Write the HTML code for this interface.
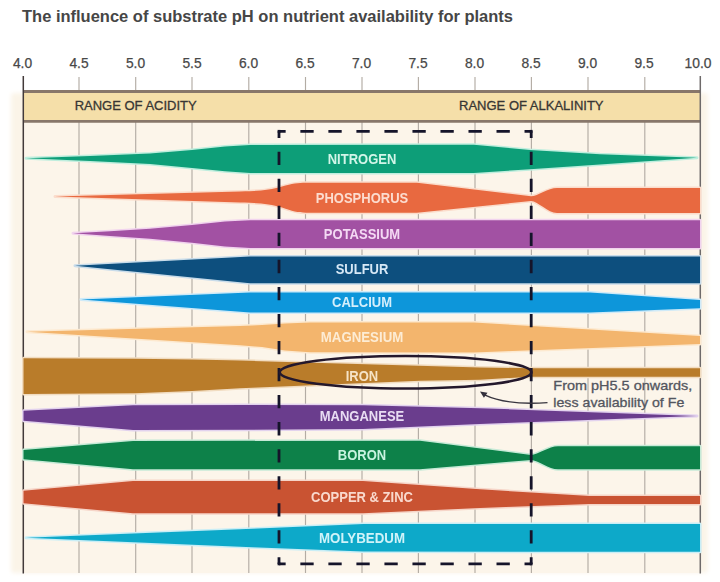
<!DOCTYPE html>
<html><head><meta charset="utf-8">
<style>
html,body{margin:0;padding:0;background:#fff;}
body{width:720px;height:582px;overflow:hidden;font-family:"Liberation Sans",sans-serif;}
svg{display:block}
text{font-family:"Liberation Sans",sans-serif;}
.lbl{font-weight:bold;font-size:13px;text-anchor:middle;}
.ax{font-size:13.8px;fill:#484848;stroke:#484848;stroke-width:0.25px;text-anchor:middle;}
</style></head><body>
<svg width="720" height="582" viewBox="0 0 720 582">
<defs>
<filter id="soft" x="-5%" y="-5%" width="110%" height="110%"><feGaussianBlur stdDeviation="0.6"/></filter>
<filter id="tblur" x="-5%" y="-20%" width="110%" height="140%"><feGaussianBlur stdDeviation="0.35"/></filter>
<filter id="bgblur" x="-5%" y="-5%" width="110%" height="110%"><feGaussianBlur stdDeviation="2"/></filter>
</defs>
<rect width="720" height="582" fill="#ffffff"/>
<!-- cream background -->
<rect x="11" y="93" width="697" height="480" rx="3" fill="#fbf4e8" filter="url(#bgblur)"/>
<rect x="23" y="92" width="677" height="481" fill="#fcf5ea"/>
<!-- title -->
<text x="22" y="22" font-size="16.4" font-weight="bold" fill="#464646" id="title" textLength="491" lengthAdjust="spacingAndGlyphs">The influence of substrate pH on nutrient availability for plants</text>
<!-- axis labels -->
<g class="ax">
<text x="22.5" y="67.6">4.0</text><text x="79.0" y="67.6">4.5</text><text x="135.5" y="67.6">5.0</text><text x="192.0" y="67.6">5.5</text><text x="248.5" y="67.6">6.0</text><text x="305.0" y="67.6">6.5</text><text x="361.5" y="67.6">7.0</text><text x="418.0" y="67.6">7.5</text><text x="474.5" y="67.6">8.0</text><text x="531.0" y="67.6">8.5</text><text x="587.5" y="67.6">9.0</text><text x="644.0" y="67.6">9.5</text><text x="698.0" y="67.6">10.0</text>
</g>
<!-- grid lines -->
<g stroke="#b3aca4" stroke-width="1.15">
<line x1="79" y1="77" x2="79" y2="573"/><line x1="135.7" y1="77" x2="135.7" y2="573"/><line x1="192" y1="77" x2="192" y2="573"/><line x1="248.8" y1="77" x2="248.8" y2="573"/><line x1="305.5" y1="77" x2="305.5" y2="573"/><line x1="362" y1="77" x2="362" y2="573"/><line x1="418.4" y1="77" x2="418.4" y2="573"/><line x1="475" y1="77" x2="475" y2="573"/><line x1="531.4" y1="77" x2="531.4" y2="573"/><line x1="588" y1="77" x2="588" y2="573"/><line x1="644.8" y1="77" x2="644.8" y2="573"/>
</g>
<!-- header band -->
<rect x="23.3" y="91" width="677" height="31" fill="#f5dfa9"/>
<line x1="23.3" y1="91.5" x2="700.3" y2="91.5" stroke="#88776a" stroke-width="2.8"/>
<line x1="23.3" y1="121.4" x2="700.3" y2="121.4" stroke="#88776a" stroke-width="2.8"/>
<text x="135.7" y="110.3" font-size="13" fill="#383634" stroke="#383634" stroke-width="0.3" text-anchor="middle" id="acid">RANGE OF ACIDITY</text>
<text x="531.3" y="110.3" font-size="13" fill="#383634" stroke="#383634" stroke-width="0.3" text-anchor="middle" id="alk">RANGE OF ALKALINITY</text>
<!-- axes -->
<line x1="23.3" y1="76" x2="23.3" y2="573.5" stroke="#423a3a" stroke-width="1.5"/>
<line x1="700.3" y1="76" x2="700.3" y2="573.5" stroke="#6e6a6a" stroke-width="1.5"/>

<g filter="url(#soft)">
<!-- Nitrogen -->
<polygon points="26,158.2 90,156 150,153.6 192,150 225,146.5 250,145 474,144.8 530,150 600,154.3 697,157.8 600,164.5 530,169.2 474,173 250,173 225,171.3 192,168 150,164 90,161" fill="#0f9e78" stroke="#bfeede" stroke-width="3" paint-order="stroke" stroke-linejoin="round"/>
<!-- Phosphorus -->
<path d="M55,196.5 L240,191.5 C262,191 270,190 282,186.5 C292,183.5 298,182.7 306,182.7 L417,182.7 L531,196.3 C538,196 548,187.9 557,187.9 L700,187.9 L700,213 L557,213 C548,213 538,201.3 531,201 L417,212.7 L306,212.7 C298,212.7 292,211 282,207.5 C270,204 262,203 240,202.5 Z" fill="#e8693f" stroke="#fbdccb" stroke-width="3" paint-order="stroke" stroke-linejoin="round"/>
<!-- Potassium -->
<polygon points="73,233.2 110,231.3 150,228.8 192,225 225,221.6 250,220.2 700,220.2 700,248 250,248 225,246.5 192,242.7 150,238.8 110,236" fill="#a251a3" stroke="#f1d3ee" stroke-width="3" paint-order="stroke" stroke-linejoin="round"/>
<!-- Sulfur -->
<polygon points="75,265.7 250,256.5 700,256.5 700,283.3 250,283.3" fill="#0a4f7e" stroke="#c9dcea" stroke-width="3" paint-order="stroke" stroke-linejoin="round"/>
<!-- Calcium -->
<polygon points="81,299.5 250,292.5 590,292.5 700,300 700,308.3 590,312.5 250,312.5" fill="#0d96da" stroke="#cfeaf8" stroke-width="3" paint-order="stroke" stroke-linejoin="round"/>
<!-- Magnesium -->
<polygon points="27,331.7 240,325.9 262,325 285,323.6 310,322.6 474,322.6 700,336 700,344 474,352.5 310,352.3 285,350.5 262,347 240,345.2" fill="#f3b56d" stroke="#fde9cf" stroke-width="3" paint-order="stroke" stroke-linejoin="round"/>
<!-- Iron -->
<polygon points="23.5,358.2 135,358.7 192,359.5 240,360.6 480,367.4 531,368.3 700,368.3 700,376.7 531,376.7 480,379.8 420,380.8 240,388.3 192,391 135,393.3 23.5,394" fill="#b97b2b" stroke="#f1dcc0" stroke-width="3" paint-order="stroke" stroke-linejoin="round"/>
<!-- Manganese -->
<polygon points="23.5,410.8 133,405.3 250,405 363,405.3 480,408.2 697,416 480,424 363,429 250,429.7 133,430 23.5,420.7" fill="#6b3d8d" stroke="#e2d2ee" stroke-width="3" paint-order="stroke" stroke-linejoin="round"/>
<!-- Boron -->
<path d="M23.5,450 L133,441 L420,440.7 L531,455 C538,454.7 549,446.3 558,446.3 L700,446.3 L700,469.3 L558,469.3 C549,469.3 538,460.3 531,460 L420,469.3 L133,469.3 L23.5,459.3 Z" fill="#0b8149" stroke="#c7ead7" stroke-width="3" paint-order="stroke" stroke-linejoin="round"/>
<!-- Copper & Zinc -->
<polygon points="23.5,490.7 133,481 363,481 480,489.3 590,496 700,496 700,504 590,504 480,508 363,513.3 133,513.3 23.5,503.3" fill="#c95232" stroke="#f6d5c8" stroke-width="3" paint-order="stroke" stroke-linejoin="round"/>
<!-- Molybdenum -->
<polygon points="26,537.7 240,529.3 363,524 700,524 700,551.8 363,551.5 240,546.7" fill="#11a9c9" stroke="#c9eef6" stroke-width="3" paint-order="stroke" stroke-linejoin="round"/>
</g>

<!-- labels -->
<g class="lbl" filter="url(#tblur)">
<text transform="translate(362,158.8) scale(1,1.12)" x="0" y="4.7" fill="#d2f5e8">NITROGEN</text>
<text transform="translate(362,197.8) scale(1,1.12)" x="0" y="4.7" fill="#fcdccf">PHOSPHORUS</text>
<text transform="translate(362,233.9) scale(1,1.12)" x="0" y="4.7" fill="#f4d9f4">POTASSIUM</text>
<text transform="translate(362,268.8) scale(1,1.12)" x="0" y="4.7" fill="#d6e8f6">SULFUR</text>
<text transform="translate(362,301.8) scale(1,1.12)" x="0" y="4.7" fill="#d4effc">CALCIUM</text>
<text transform="translate(362,336.8) scale(1,1.12)" x="0" y="4.7" fill="#fdecd4" textLength="82.5" lengthAdjust="spacingAndGlyphs">MAGNESIUM</text>
<text transform="translate(362,375.3) scale(1,1.12)" x="0" y="4.7" fill="#f6e3c6">IRON</text>
<text transform="translate(362,415.8) scale(1,1.12)" x="0" y="4.7" fill="#e8dcf3">MANGANESE</text>
<text transform="translate(362,454.6) scale(1,1.12)" x="0" y="4.7" fill="#c8f3e0">BORON</text>
<text transform="translate(362,496.4) scale(1,1.12)" x="0" y="4.7" fill="#f9d9cd">COPPER &amp; ZINC</text>
<text transform="translate(362,537.3) scale(1,1.12)" x="0" y="4.7" fill="#d0f3f9" textLength="86" lengthAdjust="spacingAndGlyphs">MOLYBEDUM</text>
</g>

<!-- dashed box -->
<g fill="none" stroke="#15142a" stroke-width="2.8">
<path d="M279,131.3 H531.2" stroke-dasharray="13.3 14.72" stroke-dashoffset="6.65"/>
<path d="M279,563.9 H531.2" stroke-dasharray="13.3 14.72" stroke-dashoffset="6.65"/>
<path d="M279,131.3 V563.9" stroke-dasharray="13.3 13.74" stroke-dashoffset="6.65"/>
<path d="M531.2,131.3 V563.9" stroke-dasharray="13.3 13.74" stroke-dashoffset="6.65"/>
<rect x="277.6" y="129.9" width="2.8" height="2.8" fill="#15142a" stroke="none"/>
<rect x="529.8" y="129.9" width="2.8" height="2.8" fill="#15142a" stroke="none"/>
<rect x="277.6" y="562.5" width="2.8" height="2.8" fill="#15142a" stroke="none"/>
<rect x="529.8" y="562.5" width="2.8" height="2.8" fill="#15142a" stroke="none"/>
</g>
<!-- ellipse -->
<ellipse cx="405.6" cy="372.3" rx="125.9" ry="16.2" fill="none" stroke="#24182c" stroke-width="2.5"/>
<!-- annotation -->
<text x="553.3" y="389.5" font-size="12.6" fill="#53565f" stroke="#53565f" stroke-width="0.3" textLength="139" lengthAdjust="spacingAndGlyphs">From pH5.5 onwards,</text>
<text x="553.3" y="407" font-size="12.6" fill="#53565f" stroke="#53565f" stroke-width="0.3" textLength="131" lengthAdjust="spacingAndGlyphs">less availability of Fe</text>
<path d="M547.5,402.6 C528,404 503,403.5 484.5,394.8" fill="none" stroke="#38353f" stroke-width="1.4"/>
<path d="M480,391.5 l7.5,1.2 l-3.6,5 z" fill="#33303c"/>
</svg>
</body></html>
